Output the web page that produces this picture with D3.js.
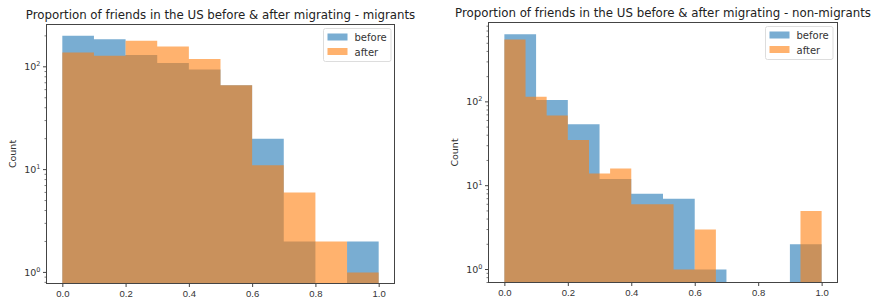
<!DOCTYPE html>
<html>
<head>
<meta charset="utf-8">
<script src="https://cdn.jsdelivr.net/npm/d3@7"></script>
<style>
  body { margin: 0; background: #fff; }
  svg { font-family: "DejaVu Sans", sans-serif; }
</style>
</head>
<body>
<svg id="chart" width="876" height="302"></svg>
<script>
// bin edges
var edges10 = [0, 0.1, 0.2, 0.3, 0.4, 0.5, 0.6, 0.7, 0.8, 0.9, 1.0];
var edges15 = [0, 0.0667, 0.1333, 0.2, 0.2667, 0.3333, 0.4, 0.4667, 0.5333, 0.6, 0.6667, 0.7333, 0.8, 0.8667, 0.9333, 1.0];

// migrants
var migBefore = [200, 185, 130, 109, 94, 66, 20, 2, 0, 2];
var migAfter = [138, 128, 179, 158, 119, 66, 11, 6, 2, 1];

// non-migrants
var nonBefore = [641, 105, 54, 12, 8, 7, 1, 0, 0, 2];
var nonAfter = [554, 115, 69, 35, 14, 16, 6, 6, 1, 3, 0, 0, 0, 0, 5];

var xTicks = [0, 0.2, 0.4, 0.6, 0.8, 1.0];
var yTicks = [1, 10, 100];
var seriesNames = ["before", "after"];
var colors = ["#1f77b4", "#ff7f0e"];

var svg = d3.select("#chart");

function drawPanel(opt) {
    var x = d3.scaleLinear().domain([-0.05, 1.05]).range([opt.left, opt.right]);
    var y = d3.scaleLog().domain(opt.ydom).range([opt.bottom, opt.top]);
    var g = svg.append("g");

    var clipId = "clip" + opt.id;
    svg.append("clipPath").attr("id", clipId)
        .append("rect")
        .attr("x", opt.left).attr("y", opt.top)
        .attr("width", opt.right - opt.left).attr("height", opt.bottom - opt.top);

    var bars = g.append("g").attr("clip-path", "url(#" + clipId + ")");

    // one path per series so adjacent bars don't show seams
    opt.series.forEach(function(s, k) {
        var p = d3.path();
        s.values.forEach(function(v, i) {
            if (v <= 0) return;
            p.rect(x(s.edges[i]), y(v), x(s.edges[i + 1]) - x(s.edges[i]), opt.bottom - y(v));
        });
        bars.append("path")
            .attr("d", p.toString())
            .attr("fill", colors[k])
            .attr("fill-opacity", 0.6);
    });

    // frame
    g.append("rect")
        .attr("x", opt.left).attr("y", opt.top)
        .attr("width", opt.right - opt.left).attr("height", opt.bottom - opt.top)
        .attr("fill", "none").attr("stroke", "#444").attr("stroke-width", 1);

    // x axis
    var xa = g.append("g").attr("transform", "translate(0," + opt.bottom + ")")
        .call(d3.axisBottom(x).tickValues(xTicks).tickFormat(d3.format(".1f")).tickSize(3.5).tickPadding(3));
    xa.select(".domain").remove();
    xa.selectAll("line").attr("stroke", "#444");
    xa.selectAll("text").attr("fill", "#333").style("font-size", "9.5px");

    // y axis minor ticks
    var minor = [];
    [0.1, 1, 10, 100].forEach(function(dec) {
        for (var m = 2; m <= 9; m++) {
            var v = dec * m;
            if (v >= opt.ydom[0] && v <= opt.ydom[1]) minor.push(v);
        }
    });
    g.selectAll(null).data(minor).enter().append("line")
        .attr("x1", opt.left - 2).attr("x2", opt.left)
        .attr("y1", function(d) { return y(d); }).attr("y2", function(d) { return y(d); })
        .attr("stroke", "#444").attr("stroke-width", 0.7);

    g.selectAll(null).data(yTicks).enter().append("line")
        .attr("x1", opt.left - 3.5).attr("x2", opt.left)
        .attr("y1", function(d) { return y(d); }).attr("y2", function(d) { return y(d); })
        .attr("stroke", "#444");

    var yl = g.selectAll(null).data(yTicks).enter().append("text")
        .attr("x", opt.left - 6)
        .attr("y", function(d) { return y(d) + 3.5; })
        .attr("text-anchor", "end")
        .attr("fill", "#333")
        .style("font-size", "9.5px");
    yl.append("tspan").text("10");
    yl.append("tspan").attr("dy", -4).style("font-size", "6.5px")
        .text(function(d) { return String(Math.round(Math.log10(d))); });

    g.append("text")
        .attr("transform", "translate(" + (opt.left - 31) + "," + ((opt.top + opt.bottom) / 2) + ") rotate(-90)")
        .attr("text-anchor", "middle")
        .attr("fill", "#333")
        .style("font-size", "9.5px")
        .text("Count");

    g.append("text")
        .attr("x", (opt.left + opt.right) / 2)
        .attr("y", opt.top - 6)
        .attr("text-anchor", "middle")
        .attr("fill", "#222")
        .style("font-size", "11.8px")
        .text(opt.title);

    // legend
    var lg = g.append("g").attr("transform", "translate(" + opt.legX + "," + opt.legY + ")");
    lg.append("rect").attr("width", opt.legW).attr("height", 33).attr("rx", 2)
        .attr("fill", "#fff").attr("fill-opacity", 0.8).attr("stroke", "#ddd");
    seriesNames.forEach(function(n, k) {
        lg.append("rect").attr("x", 4).attr("y", 5 + k * 14.5).attr("width", 20).attr("height", 7)
            .attr("fill", colors[k]).attr("fill-opacity", 0.6);
        lg.append("text").attr("x", 31).attr("y", 12.5 + k * 14.5)
            .attr("fill", "#333").style("font-size", "10px").text(n);
    });
}

drawPanel({
    id: 1, left: 46.5, right: 394.5, top: 24.5, bottom: 283.5,
    ydom: [0.78, 258],
    series: [{ edges: edges10, values: migBefore }, { edges: edges10, values: migAfter }],
    title: "Proportion of friends in the US before & after migrating - migrants",
    legX: 323.5, legY: 28.5, legW: 67.5
});

drawPanel({
    id: 2, left: 488.5, right: 837.5, top: 22.5, bottom: 282.5,
    ydom: [0.70, 885],
    series: [{ edges: edges10, values: nonBefore }, { edges: edges15, values: nonAfter }],
    title: "Proportion of friends in the US before & after migrating - non-migrants",
    legX: 765.5, legY: 26.5, legW: 67.5
});
</script>
</body>
</html>
